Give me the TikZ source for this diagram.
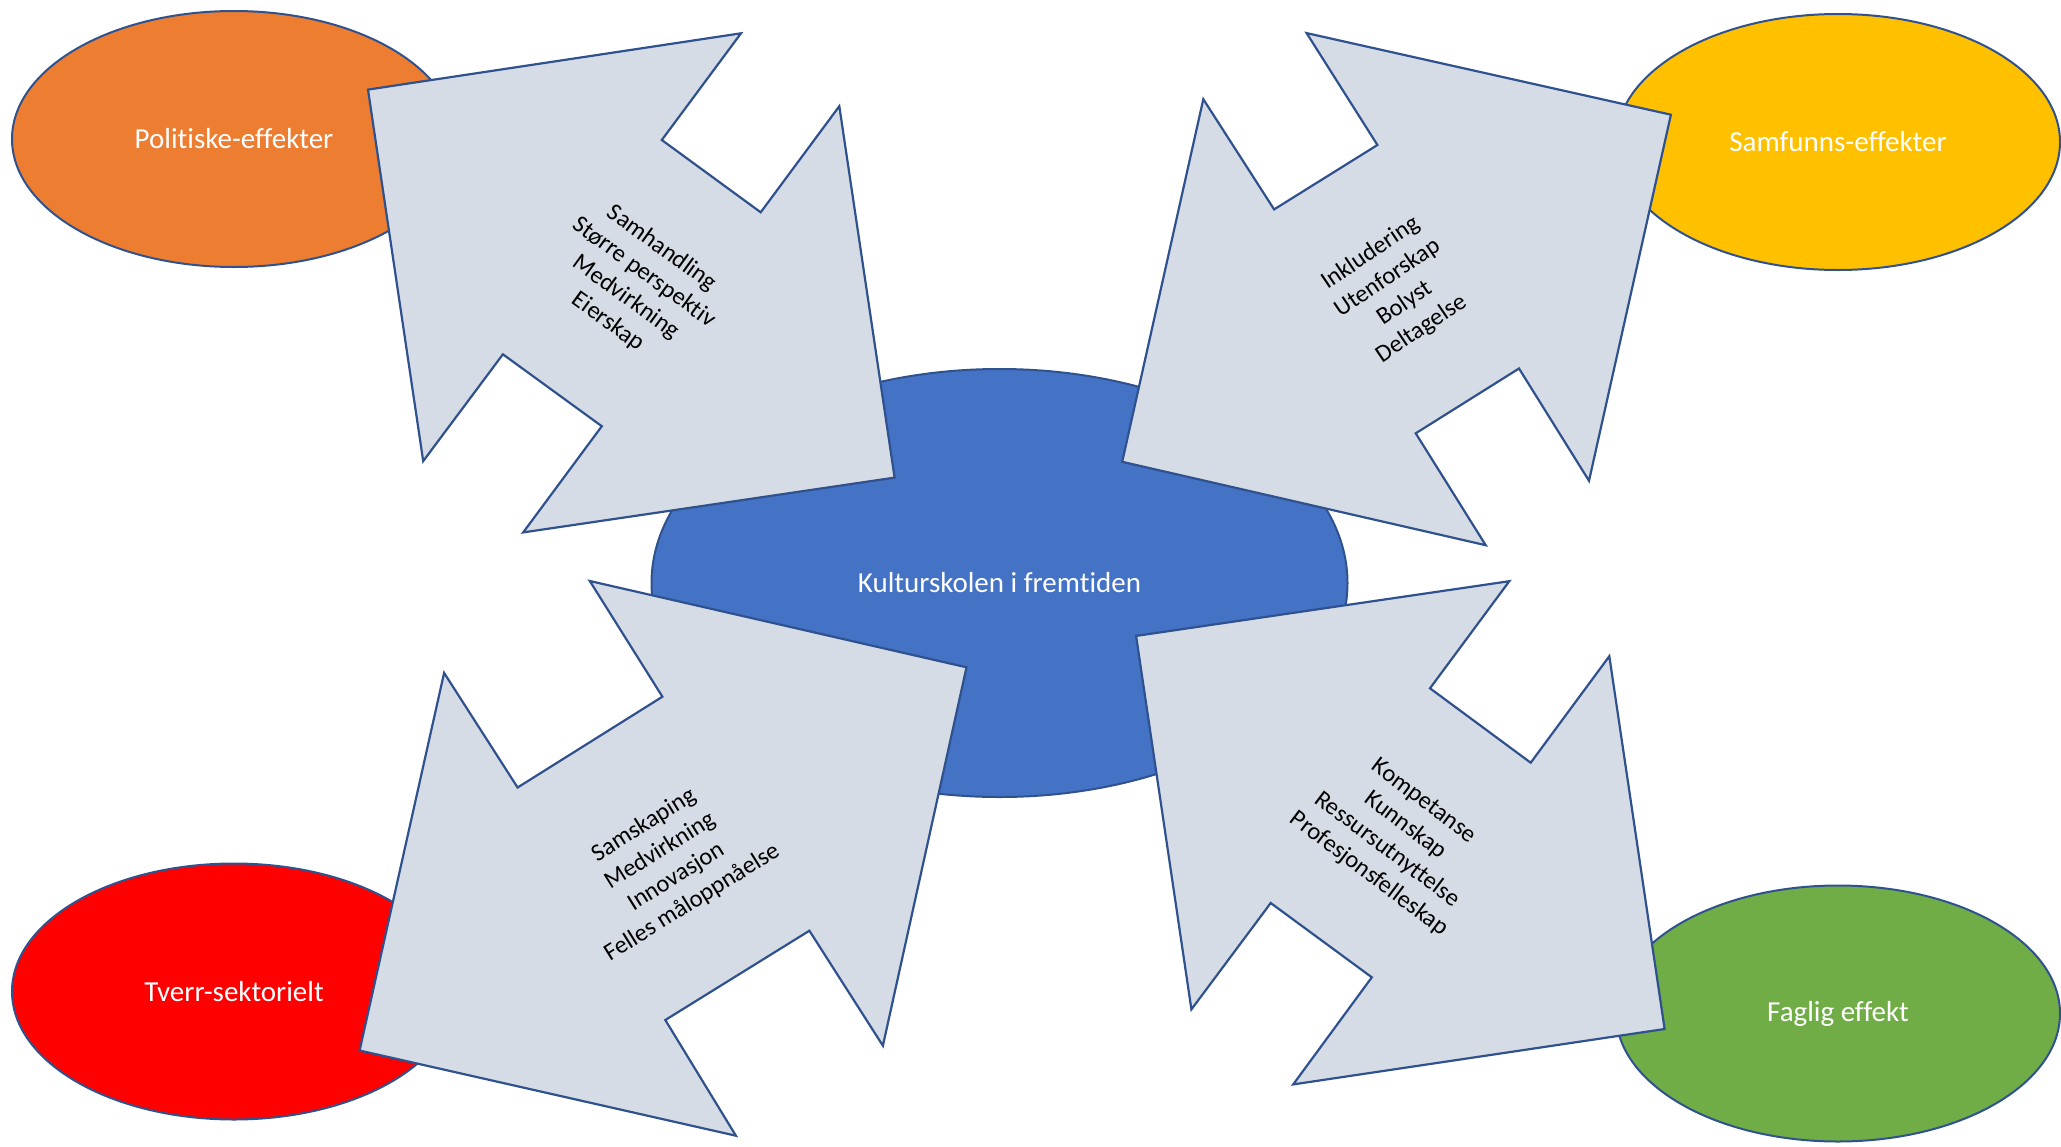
\documentclass[tikz,border=0pt]{standalone}
\usepackage{fontspec}
\setmainfont{Carlito}[Ligatures={NoCommon}]
\usetikzlibrary{shapes.geometric}
\definecolor{outl}{HTML}{2F528F}
\definecolor{arrowfill}{HTML}{D6DCE5}
\definecolor{cOrange}{HTML}{ED7D31}
\definecolor{cGold}{HTML}{FFC000}
\definecolor{cRed}{HTML}{FF0000}
\definecolor{cGreen}{HTML}{70AD47}
\definecolor{cBlue}{HTML}{4472C4}
\begin{document}
\begin{tikzpicture}[x=0.5pt,y=-0.5pt,
  blob/.style={ellipse, draw=outl, line width=1pt, inner sep=0pt,
    minimum width=222pt, minimum height=128pt, text=white,
    font=\fontsize{14.5}{17}\selectfont},
  arrowshape/.style={fill=arrowfill, draw=outl, line width=1.1pt, line join=miter},
  arrowtext/.style={align=center, text=black, inner sep=0pt,
    font=\fontsize{12.25}{15.2}\selectfont}]
\useasboundingbox (0,0) rectangle (2061,1146);
% outer ellipses
\node[blob, fill=cOrange] (pol) at (234,139) {Politiske-effekter};
\node[blob, fill=cGold] (sam) at (1838,142) {Samfunns-effekter};
\node[blob, fill=cRed] (tve) at (234,991.5) {Tverr-sektorielt};
\node[blob, fill=cGreen] (fag) at (1838,1013.5) {Faglig effekt};
% centre
\node[blob, fill=cBlue, minimum width=348pt, minimum height=214pt] (kul) at (999.5,583) {Kulturskolen i fremtiden};
% top-left arrow
\draw[arrowshape] (368,89.6) -- (741,33.3) -- (661.8,140) -- (760.7,212.3) -- (839.3,106.2)
  -- (894.6,477.6) -- (523.2,532.4) -- (601.8,426.2) -- (502.9,354.3) -- (423.2,461.1) -- cycle;
% top-right arrow
\draw[arrowshape] (1306.6,33.1) -- (1670.9,114.7) -- (1589,480.8) -- (1519,368.5) -- (1415.7,433.3)
  -- (1485.7,545.2) -- (1122.2,461.8) -- (1203.3,99.2) -- (1274.1,209.4) -- (1377.4,145) -- cycle;
% bottom-left arrow
\draw[arrowshape] (589.8,581) -- (966.5,667.3) -- (882.9,1045.7) -- (809.4,930.7) -- (665.3,1020)
  -- (735.9,1135.7) -- (359.6,1050.5) -- (444.1,672.9) -- (517.6,787.5) -- (662.4,696.7) -- cycle;
% bottom-right arrow
\draw[arrowshape] (1136.1,635.9) -- (1509.3,581.2) -- (1430,688.3) -- (1530.7,762.7) -- (1609.3,656.2)
  -- (1664.6,1029) -- (1293.2,1084.4) -- (1371.8,977.3) -- (1270.7,903) -- (1191.4,1009.4) -- cycle;
% arrow texts
\node[arrowtext, rotate=-36] (t1) at (635,285) {Samhandling\\Større perspektiv\\Medvirkning\\Eierskap};
\node[arrowtext, rotate=34] (t2) at (1396,291) {Inkludering\\Utenforskap\\Bolyst\\Deltagelse};
\node[arrowtext, rotate=32] (t3) at (668,864) {Samskaping\\Medvirkning\\Innovasjon\\Felles måloppnåelse};
\node[arrowtext, rotate=-37] (t4) at (1396,838) {Kompetanse\\Kunnskap\\Ressursutnyttelse\\Profesjonsfelleskap};
\end{tikzpicture}
\end{document}
